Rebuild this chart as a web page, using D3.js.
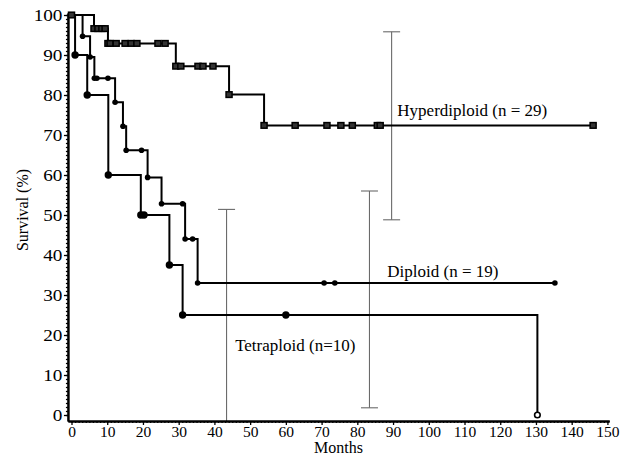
<!DOCTYPE html>
<html><head><meta charset="utf-8">
<script src="https://cdn.jsdelivr.net/npm/d3@7"></script>
<style>
html,body{margin:0;padding:0;background:#fff;}
svg{display:block;}
svg text{font-family:"Liberation Serif","Times New Roman",serif !important;fill:#000;}
</style></head>
<body><svg id="chart" width="626" height="463"></svg>
<script>
// ---- data (months / survival %) ----
const xTicks = [0,10,20,30,40,50,60,70,80,90,100,110,120,130,140,150];
const yTicks = [0,10,20,30,40,50,60,70,80,90,100];

const hyperMonths = [0, 6.3, 10.2, 29.2, 44.1, 53.9, 146];
const hyperSurv   = [100, 96.6, 92.9, 87.2, 80.1, 72.4, 72.4];
const hyperMarks  = [0, 6.3, 7.4, 8.5, 9.4, 10.2, 10.8, 12.5, 15, 16.7, 18.3, 24.2, 26.2,
                     29.2, 30.6, 35.4, 36.8, 39.6, 44.1, 53.9, 62.6, 71.5, 75.4, 78.6, 85.6, 86.4, 146];

const dipMonths = [0, 3.1, 5.2, 6.4, 12.2, 14.4, 15.3, 21.3, 25.2, 31.8, 35.3, 135.3];
const dipSurv   = [100, 94.7, 89.5, 84.2, 78.2, 72.2, 66.2, 59.4, 52.8, 44.0, 33.0, 33.0];
const dipMarks  = [3.1, 5.2, 6.4, 7.1, 10.2, 12.2, 14.4, 15.3, 19.6, 21.3, 25.2, 31.1, 31.8, 33.9,
                   35.3, 70.7, 73.7, 135.3];

const tetMonths = [0, 1, 4.4, 10.3, 19.4, 27.4, 31.1, 130.4];
const tetSurv   = [100, 90, 80, 60, 50, 37.5, 25, 0];
const tetMarks  = [1, 4.4, 10.3, 19.4, 20.3, 27.4, 31.1, 60];
const tetOpenMarks = [130.4];

const ciMonths = [43.4, 83.4, 89.6];
const ciLow    = [-1.5, 1.8, 48.8];
const ciHigh   = [51.4, 56.0, 95.8];

const labels = [
  {text:"Hyperdiploid (n = 29)", m:91.2, s:74.8},
  {text:"Diploid (n = 19)", m:88.4, s:34.4},
  {text:"Tetraploid (n=10)", m:45.8, s:16.1}
];

// ---- scales ----
const svg = d3.select("#chart");
const x = d3.scaleLinear().domain([-1, 150.5]).range([67.93, 609.2]);
const y = d3.scaleLinear().domain([-1.5, 100.5]).range([421, 13]);

function survAt(months, surv, t){ const i = d3.bisectRight(months, t) - 1; return surv[Math.max(0,i)]; }

// ---- confidence bars ----
const ci = svg.append("g").attr("stroke","#6a6a6a").attr("stroke-width",1.1);
ciMonths.forEach((m,i)=>{
  ci.append("line").attr("x1",x(m)).attr("x2",x(m)).attr("y1",y(ciHigh[i])).attr("y2",y(Math.max(ciLow[i],-1.5)));
  ci.append("line").attr("x1",x(m)-8.5).attr("x2",x(m)+8.5).attr("y1",y(ciHigh[i])).attr("y2",y(ciHigh[i]));
  if (ciLow[i] > -1.5) ci.append("line").attr("x1",x(m)-8.5).attr("x2",x(m)+8.5).attr("y1",y(ciLow[i])).attr("y2",y(ciLow[i]));
});

// ---- axes ----
const axisStyle = g => { g.selectAll("path,line").attr("stroke","#000"); g.select(".domain").attr("stroke-width",2); g.selectAll(".tick line").attr("stroke-width",1.3); };
svg.append("g").attr("transform",`translate(${x(-1)},0)`)
  .call(d3.axisLeft(y).tickValues(d3.range(0,101,1)).tickSize(2).tickSizeOuter(0).tickFormat(""))
  .call(axisStyle);
const yAx = svg.append("g").attr("transform",`translate(${x(-1)},0)`)
  .call(d3.axisLeft(y).tickValues(yTicks).tickSize(4).tickSizeOuter(0).tickFormat(d3.format("d")))
  .call(axisStyle);
yAx.selectAll(".tick text").attr("font-size",16)
  .attr("x",null).attr("dy",null)
  .attr("transform","translate(-5.5,5.5) scale(1.2,1)");
svg.append("g").attr("transform",`translate(0,${y(-1.5)})`)
  .call(d3.axisBottom(x).tickValues(d3.range(0,151,1)).tickSize(2).tickSizeOuter(0).tickFormat(""))
  .call(axisStyle);
const xAx = svg.append("g").attr("transform",`translate(0,${y(-1.5)})`)
  .call(d3.axisBottom(x).tickValues(xTicks).tickSize(4).tickSizeOuter(0).tickFormat(d3.format("d")))
  .call(axisStyle);
xAx.selectAll(".tick text").attr("font-size",15.5)
  .attr("y",4.5).attr("dy","0.71em");

svg.append("text").attr("x",338.5).attr("y",452.5).attr("text-anchor","middle")
  .attr("font-size",16).text("Months");
svg.append("text").attr("transform","translate(27.5,210) rotate(-90)").attr("text-anchor","middle")
  .attr("font-size",16).text("Survival (%)");

// ---- curves ----
const line = d3.line().x(d=>x(d[0])).y(d=>y(d[1])).curve(d3.curveStepAfter);
[[hyperMonths,hyperSurv],[dipMonths,dipSurv],[tetMonths,tetSurv]].forEach(([m,s])=>{
  svg.append("path").attr("d", line(m.map((v,i)=>[v,s[i]])))
    .attr("fill","none").attr("stroke","#000").attr("stroke-width",2);
});

// ---- markers ----
const hg = svg.append("g");
hyperMarks.forEach(t=>{
  const s = survAt(hyperMonths, hyperSurv, t);
  hg.append("rect").attr("x",x(t)-3).attr("y",y(s)-2.8).attr("width",6).attr("height",5.6)
    .attr("fill","#333").attr("stroke","#000").attr("stroke-width",1.5);
});
const dg = svg.append("g");
dipMarks.forEach(t=>{
  const s = survAt(dipMonths, dipSurv, t);
  dg.append("circle").attr("cx",x(t)).attr("cy",y(s)).attr("r",2.8).attr("fill","#000");
});
const tg = svg.append("g");
tetMarks.forEach(t=>{
  const s = survAt(tetMonths, tetSurv, t);
  tg.append("circle").attr("cx",x(t)).attr("cy",y(s)).attr("r",3.7).attr("fill","#000");
});
tetOpenMarks.forEach(t=>{
  const s = survAt(tetMonths, tetSurv, t);
  tg.append("circle").attr("cx",x(t)).attr("cy",y(s)).attr("r",2.8).attr("fill","#fff")
    .attr("stroke","#000").attr("stroke-width",1.6);
});

// ---- labels ----
labels.forEach(l=>{
  svg.append("text").attr("x",x(l.m)).attr("y",y(l.s)).attr("font-size",17).text(l.text);
});
</script></body></html>
